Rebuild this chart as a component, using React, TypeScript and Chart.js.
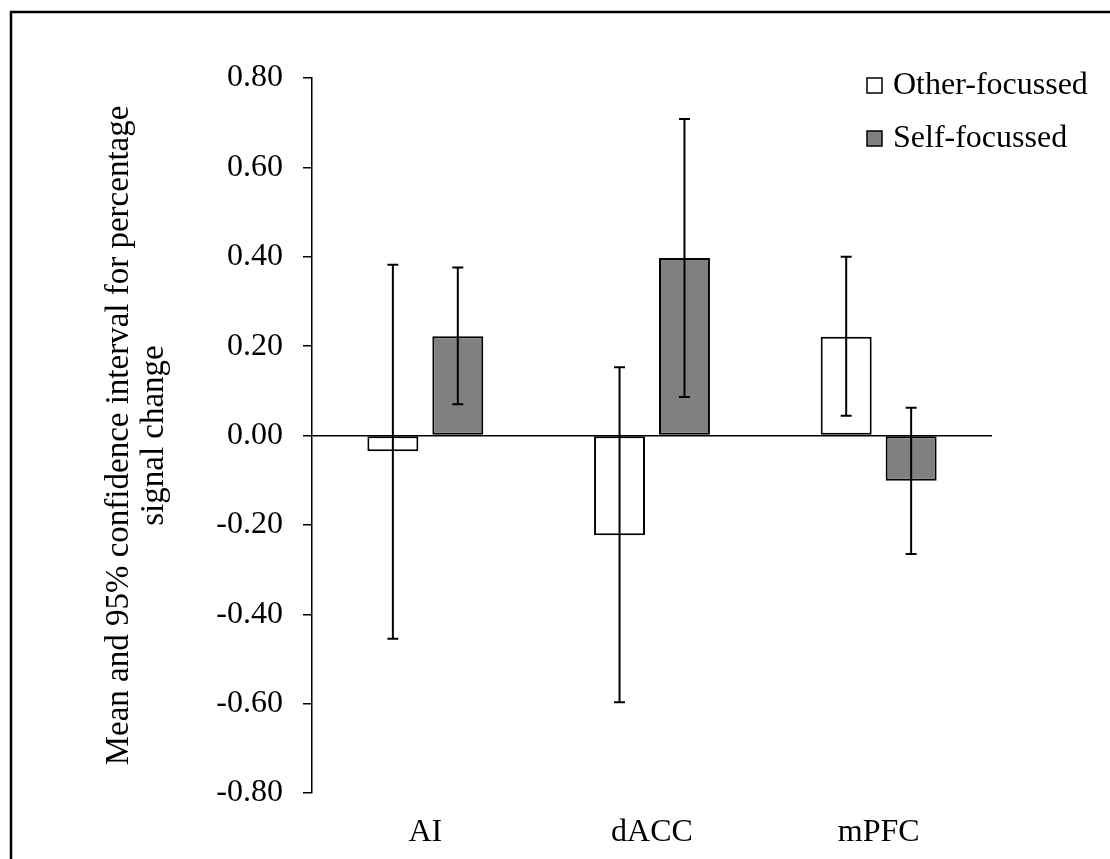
import React, { useEffect, useRef } from "react";
import { Chart, registerables } from "chart.js";

Chart.register(...registerables);

const categories = ["AI", "dACC", "mPFC"];
const seriesNames = ["Other-focussed", "Self-focussed"];
const otherMeans = [-0.035, -0.223, 0.221];
const otherLower = [-0.455, -0.597, 0.044];
const otherUpper = [0.382, 0.153, 0.4];
const selfMeans = [0.222, 0.397, -0.101];
const selfLower = [0.07, 0.086, -0.265];
const selfUpper = [0.376, 0.708, 0.062];
const yTickValues = [-0.8, -0.6, -0.4, -0.2, 0, 0.2, 0.4, 0.6, 0.8];
const yTitle = ["Mean and 95% confidence interval for percentage", "signal change"];

const FONT = "'Liberation Serif', 'Times New Roman', serif";

const errorBarPlugin = {
  id: "errorBars",
  afterDatasetsDraw(chart: any) {
    const ctx = chart.ctx;
    const y = chart.scales.y;
    const lows = [otherLower, selfLower];
    const highs = [otherUpper, selfUpper];
    ctx.save();
    ctx.strokeStyle = "#000";
    ctx.lineWidth = 2;
    chart.data.datasets.forEach((_: any, di: number) => {
      const meta = chart.getDatasetMeta(di);
      meta.data.forEach((el: any, j: number) => {
        const x = el.x;
        const yl = y.getPixelForValue(lows[di][j]);
        const yh = y.getPixelForValue(highs[di][j]);
        ctx.beginPath();
        ctx.moveTo(x, yl);
        ctx.lineTo(x, yh);
        ctx.moveTo(x - 5.5, yl);
        ctx.lineTo(x + 5.5, yl);
        ctx.moveTo(x - 5.5, yh);
        ctx.lineTo(x + 5.5, yh);
        ctx.stroke();
      });
    });
    ctx.restore();
  },
};

const legendPlugin = {
  id: "innerLegend",
  afterDraw(chart: any) {
    const ctx = chart.ctx;
    const area = chart.chartArea;
    ctx.save();
    ctx.font = `32px ${FONT}`;
    ctx.textBaseline = "middle";
    ctx.textAlign = "left";
    chart.data.datasets.forEach((ds: any, i: number) => {
      const bx = area.right - 125;
      const by = area.top + i * 53;
      ctx.fillStyle = ds.backgroundColor;
      ctx.fillRect(bx, by, 15, 15);
      ctx.strokeStyle = "#000";
      ctx.lineWidth = 1.5;
      ctx.strokeRect(bx, by, 15, 15);
      ctx.fillStyle = "#000";
      ctx.fillText(ds.label, bx + 26, by + 8);
    });
    ctx.restore();
  },
};

const framePlugin = {
  id: "frame",
  beforeDraw(chart: any) {
    const ctx = chart.ctx;
    ctx.save();
    ctx.fillStyle = "#fff";
    ctx.fillRect(0, 0, chart.width, chart.height);
    ctx.strokeStyle = "#000";
    ctx.lineWidth = 2.5;
    ctx.beginPath();
    ctx.moveTo(11, chart.height + 5);
    ctx.lineTo(11, 12);
    ctx.lineTo(chart.width + 5, 12);
    ctx.stroke();
    ctx.restore();
  },
};

export default function App() {
  const ref = useRef<HTMLCanvasElement>(null);
  useEffect(() => {
    if (!ref.current) return;
    const chart = new Chart(ref.current, {
      type: "bar",
      data: {
        labels: categories,
        datasets: [
          {
            label: seriesNames[0],
            data: otherMeans,
            backgroundColor: "#ffffff",
            borderColor: "#000000",
            borderWidth: 2,
            borderSkipped: false,
          },
          {
            label: seriesNames[1],
            data: selfMeans,
            backgroundColor: "#808080",
            borderColor: "#000000",
            borderWidth: 2,
            borderSkipped: false,
          },
        ],
      },
      options: {
        animation: false,
        responsive: false,
        devicePixelRatio: 1,
        categoryPercentage: 0.573,
        barPercentage: 0.785,
        layout: { padding: { left: 0, top: 78, right: 118, bottom: 0 } },
        plugins: {
          legend: { display: false },
          tooltip: { enabled: false },
        },
        scales: {
          x: {
            grid: { display: false, drawTicks: false },
            border: { display: false },
            ticks: {
              color: "#000",
              font: { family: FONT, size: 32 },
              padding: 20,
            },
            afterFit(scale: any) {
              scale.height = 66;
            },
          },
          y: {
            min: -0.8,
            max: 0.8,
            afterBuildTicks(scale: any) {
              scale.ticks = yTickValues.map((v) => ({ value: v }));
            },
            ticks: {
              color: "#000",
              font: { family: FONT, size: 32 },
              padding: 20,
              callback: (v: any) => Number(v).toFixed(2),
            },
            grid: {
              drawOnChartArea: true,
              drawTicks: true,
              tickLength: 9,
              tickColor: "#000",
              lineWidth: 1.5,
              color: (c: any) =>
                c.tick && Math.abs(c.tick.value) < 1e-9 ? "#000" : "rgba(0,0,0,0)",
            },
            border: { display: true, color: "#000", width: 1.5 },
            title: {
              display: true,
              text: yTitle,
              color: "#000",
              font: { family: FONT, size: 33, lineHeight: 1.06 },
              padding: { top: 102, bottom: 0 },
            },
            afterFit(scale: any) {
              scale.width = 312;
            },
          },
        },
      },
      plugins: [framePlugin, errorBarPlugin, legendPlugin],
    });
    return () => chart.destroy();
  }, []);
  return (
    <div style={{ position: "absolute", left: 0, top: 0, width: 1110, height: 859 }}>
      <canvas ref={ref} width={1110} height={859} />
    </div>
  );
}
